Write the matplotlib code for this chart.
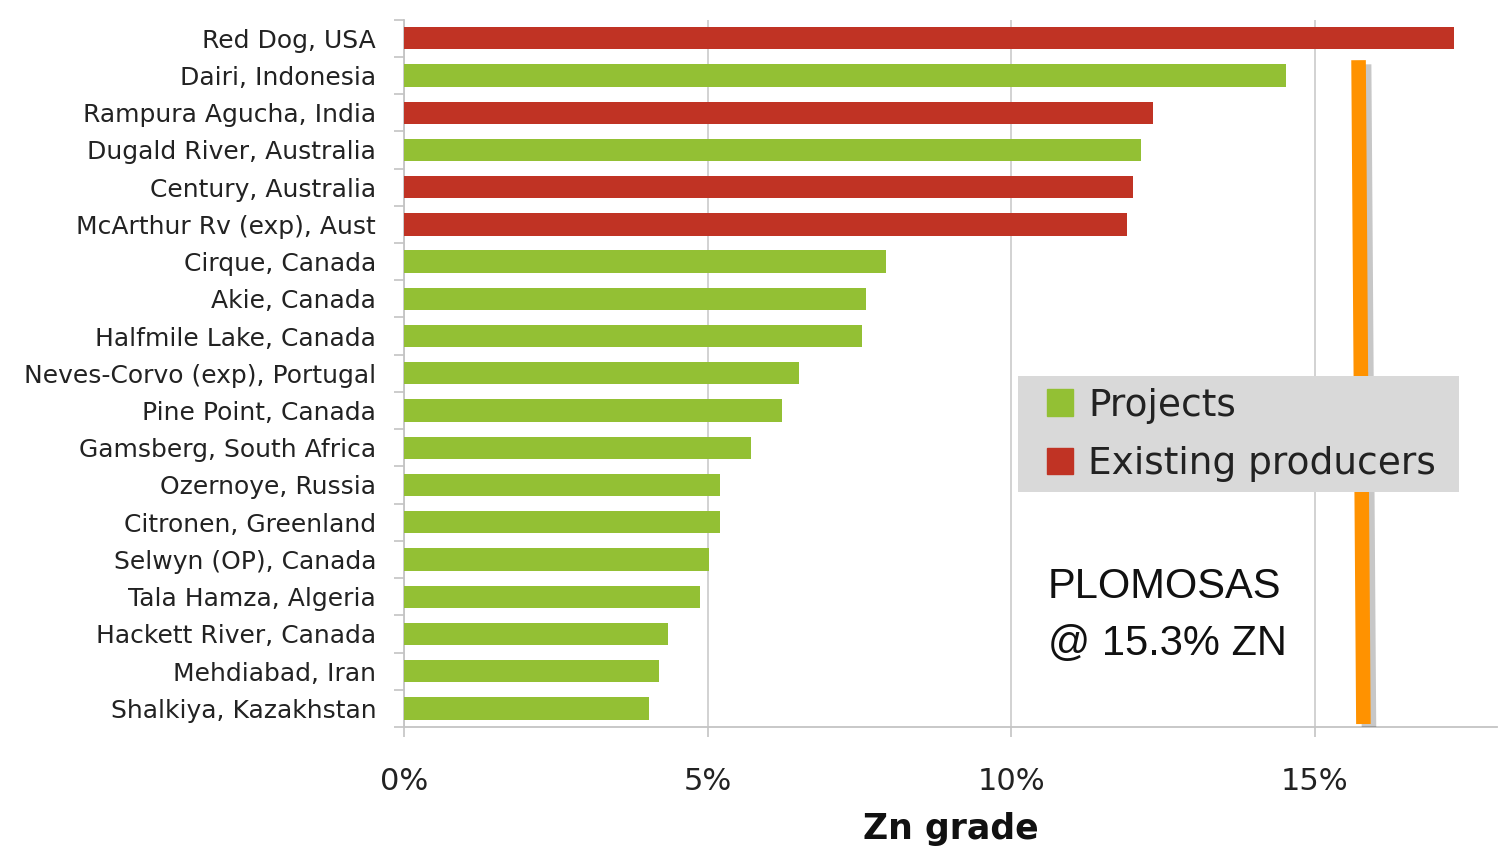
import numpy as np
import matplotlib
matplotlib.use('Agg')
import matplotlib.pyplot as plt
import matplotlib.patheffects as pe
from matplotlib.patches import Patch, Rectangle

# ---- data ----
mines = ['Red Dog, USA', 'Dairi, Indonesia', 'Rampura Agucha, India',
         'Dugald River, Australia', 'Century, Australia', 'McArthur Rv (exp), Aust',
         'Cirque, Canada', 'Akie, Canada', 'Halfmile Lake, Canada',
         'Neves-Corvo (exp), Portugal', 'Pine Point, Canada', 'Gamsberg, South Africa',
         'Ozernoye, Russia', 'Citronen, Greenland', 'Selwyn (OP), Canada',
         'Tala Hamza, Algeria', 'Hackett River, Canada', 'Mehdiabad, Iran',
         'Shalkiya, Kazakhstan']
zn_grade = [17.3, 14.52, 12.34, 12.13, 12.01, 11.9, 7.94, 7.61, 7.54,
            6.51, 6.22, 5.71, 5.21, 5.21, 5.02, 4.88, 4.35, 4.2, 4.03]
producer = [True, False, True, False, True, True, False, False, False,
            False, False, False, False, False, False, False, False, False, False]
x_ticks = [0, 5, 10, 15]
plomosas_line_x = [15.72, 15.80]   # top, bottom of the orange marker
plomosas_lines = ['PLOMOSAS', '@ 15.3% ZN']

GREEN = '#93c034'
RED = '#c03324'
ORANGE = '#ff9200'
GRID = '#cfcfcf'
TXT = '#222222'
FONT = 'DejaVu Sans'

plt.rcParams['font.family'] = FONT

fig = plt.figure(figsize=(15.04, 8.52), dpi=100)
ax = fig.add_axes([404 / 1504, 1 - 727 / 852, 1093 / 1504, 707.4 / 852])

ypos = np.arange(len(mines))
colors = [RED if p else GREEN for p in producer]
ax.barh(ypos, zn_grade, height=0.6, color=colors, zorder=3)

ax.set_ylim(len(mines) - 0.5, -0.5)
ax.set_xlim(0, 18)

# y axis: labels at bar centres, tick marks at category boundaries
ax.set_yticks(ypos)
ax.set_yticklabels(mines, fontsize=18, color=TXT)
ax.tick_params(axis='y', which='major', length=0, pad=20)
ax.set_yticks(np.arange(-0.5, len(mines)), minor=True)
ax.tick_params(axis='y', which='minor', length=7.5, width=1.2, color='#c4c4c4')

ax.set_xticks(x_ticks)
ax.set_xticklabels([f'{t}%' for t in x_ticks], fontsize=22, color=TXT)
ax.tick_params(axis='x', length=7, width=1.2, color='#c4c4c4', pad=22)
ax.xaxis.grid(True, color=GRID, lw=1.3, zorder=0)
ax.set_axisbelow(True)
ax.set_xlabel('Zn grade', fontsize=25, fontweight='bold', color='#111111',
              labelpad=11)

for s in ['top', 'right']:
    ax.spines[s].set_visible(False)
for s in ['left', 'bottom']:
    ax.spines[s].set_color('#c4c4c4')
    ax.spines[s].set_linewidth(1.3)

# orange PLOMOSAS marker with drop shadow
ax.plot(plomosas_line_x, [0.59, 18.42], color=ORANGE, lw=10.5,
        solid_capstyle='butt', zorder=4,
        path_effects=[pe.SimpleLineShadow(offset=(4, -3), shadow_color='k', alpha=0.22),
                      pe.Normal()])

for txt, yb in zip(plomosas_lines, [0.1824, 0.1018]):
    ax.text(0.5892, yb, txt, transform=ax.transAxes, fontsize=30,
            family=['Liberation Sans', 'DejaVu Sans'], color='#111111',
            va='baseline', ha='left', zorder=6)

# legend on a grey panel
ax.add_patch(Rectangle((0.5618, 0.332), 0.4035, 0.164, transform=ax.transAxes,
                       facecolor='#d9d9d9', edgecolor='none', zorder=9))
handles = [Patch(color=GREEN, label='Projects'),
           Patch(color=RED, label='Existing producers')]
leg = ax.legend(handles=handles, loc='center left', bbox_to_anchor=(0.5883, 0.4128),
                borderaxespad=0, borderpad=0, frameon=False,
                prop={'size': 27}, handlelength=0.7, handleheight=0.7,
                handletextpad=0.4, labelspacing=0.6)
leg.set_zorder(10)
for t in leg.get_texts():
    t.set_color(TXT)

fig.savefig('out.png', dpi=100)
